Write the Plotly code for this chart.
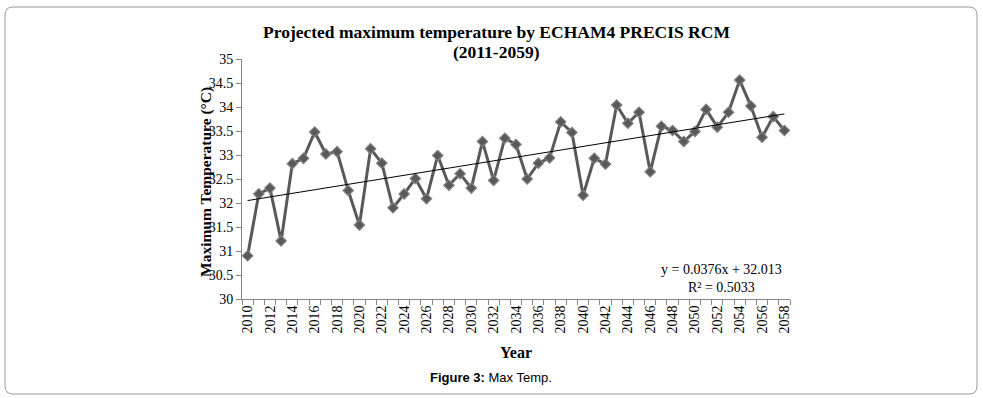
import plotly.graph_objects as go

years = list(range(2010, 2059))
max_temp = [30.90, 32.19, 32.31, 31.21, 32.82, 32.93, 33.48, 33.02, 33.07, 32.26,
            31.54, 33.13, 32.83, 31.90, 32.19, 32.51, 32.09, 32.99, 32.37, 32.61,
            32.31, 33.28, 32.47, 33.35, 33.22, 32.50, 32.83, 32.94, 33.69, 33.47,
            32.16, 32.93, 32.81, 34.04, 33.66, 33.89, 32.65, 33.60, 33.51, 33.28,
            33.49, 33.95, 33.58, 33.89, 34.56, 34.02, 33.37, 33.80, 33.51]
trend_slope = 0.0376
trend_intercept = 32.013
year_ticks = list(range(2010, 2059, 2))
y_ticks = [30, 30.5, 31, 31.5, 32, 32.5, 33, 33.5, 34, 34.5, 35]

trend_x = [years[0], years[-1]]
trend_y = [trend_slope * 1 + trend_intercept, trend_slope * len(years) + trend_intercept]

W, H = 983, 398
L, R, T, B = 242, 790, 59, 299

def px(X):
    return (X - L) / (R - L)

def py(Y):
    return (B - Y) / (B - T)

fig = go.Figure()
fig.add_trace(go.Scatter(x=years, y=max_temp, mode="lines+markers",
                         line=dict(color="#595959", width=3),
                         marker=dict(symbol="diamond", size=8, color="#595959",
                                     line=dict(color="#808080", width=1.2)),
                         showlegend=False, hoverinfo="x+y"))
fig.add_trace(go.Scatter(x=trend_x, y=trend_y, mode="lines",
                         line=dict(color="#000000", width=1),
                         showlegend=False, hoverinfo="skip"))

serif = "Liberation Serif, Times New Roman, serif"

fig.update_layout(
    width=W, height=H,
    margin=dict(l=L, r=W - R, t=T, b=H - B, pad=0),
    paper_bgcolor="white", plot_bgcolor="white",
    font=dict(family=serif, color="#000000", size=14),
    xaxis=dict(range=[2009.5, 2058.5], tickmode="array", tickvals=year_ticks,
               ticktext=[str(v) for v in year_ticks], tickangle=-90,
               ticks="", showgrid=False, zeroline=False,
               showline=True, linecolor="#868686", linewidth=1,
               tickfont=dict(family=serif, size=14, color="#000"),
               minor=dict(tick0=2009.5, dtick=1, ticks="outside", ticklen=5,
                          tickcolor="#868686", showgrid=False)),
    yaxis=dict(range=[30, 35], tickmode="array", tickvals=y_ticks,
               ticktext=[f"{v:g}" for v in y_ticks],
               ticks="outside", ticklen=5, tickcolor="#868686",
               showgrid=False, zeroline=False,
               showline=True, linecolor="#868686", linewidth=1,
               tickfont=dict(family=serif, size=14, color="#000")),
)

rad = 8
x0, x1 = px(5), px(977)
y0, y1 = py(394), py(7)
rx = rad / (R - L)
ry = rad / (B - T)
path = (f"M {x0+rx},{y1} L {x1-rx},{y1} Q {x1},{y1} {x1},{y1-ry} "
        f"L {x1},{y0+ry} Q {x1},{y0} {x1-rx},{y0} L {x0+rx},{y0} "
        f"Q {x0},{y0} {x0},{y0+ry} L {x0},{y1-ry} Q {x0},{y1} {x0+rx},{y1} Z")
fig.add_shape(type="path", path=path, xref="paper", yref="paper",
              line=dict(color="#9a9a9a", width=1), layer="below")

def note(text, X, Y, size, family=serif, angle=0):
    fig.add_annotation(text=text, xref="paper", yref="paper", x=px(X), y=py(Y),
                       xanchor="center", yanchor="middle", textangle=angle,
                       showarrow=False, align="center",
                       font=dict(family=family, size=size, color="#000"))

note("<b>Projected maximum temperature by ECHAM4 PRECIS RCM</b>", 496, 32, 17.5)
note("<b>(2011-2059)</b>", 496, 52, 17.5)
note("<b>Maximum Temperature (°C)</b>", 206, 182, 15.5, angle=-90)
note("<b>Year</b>", 516, 352, 16)
note("<b>Figure 3:</b> Max Temp.", 491, 377, 13, family="Liberation Sans, Arial, sans-serif")
note("y = 0.0376x + 32.013<br>R² = 0.5033", 721, 278, 14)

fig.write_html("out.html", config={"displayModeBar": False},
               post_script="document.body.style.margin='0px';")
